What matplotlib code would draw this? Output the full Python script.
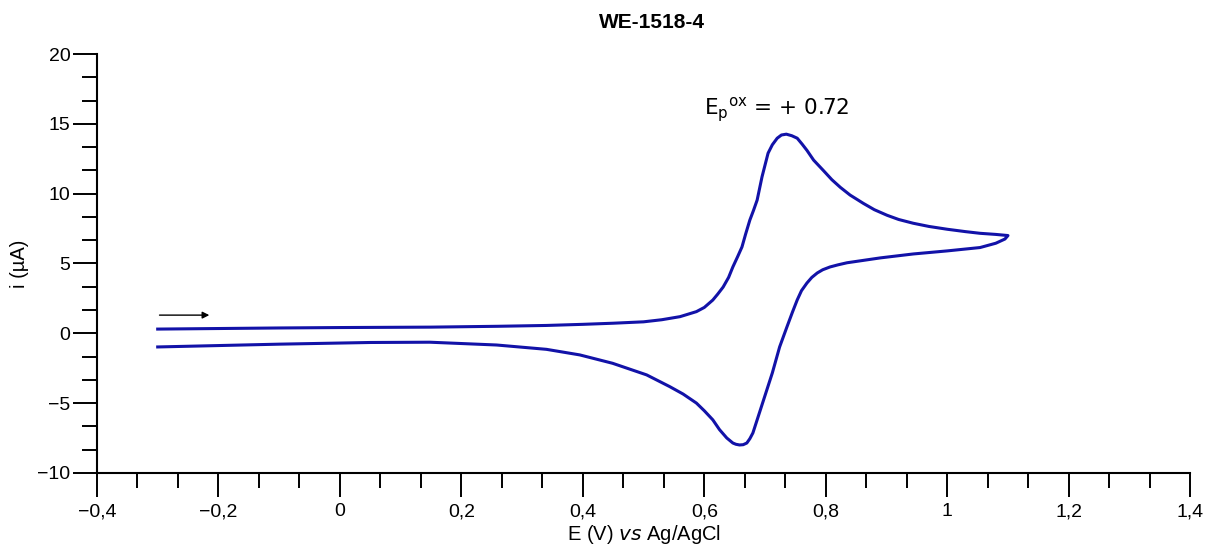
import matplotlib
matplotlib.use("Agg")
import matplotlib.pyplot as plt
from matplotlib.ticker import MultipleLocator, AutoMinorLocator, FuncFormatter

# forward (anodic) scan
e_fwd = [-0.30, -0.20, -0.10, 0.00, 0.10, 0.15, 0.26, 0.34, 0.40, 0.45, 0.50,
         0.53, 0.56, 0.587, 0.60, 0.614, 0.622, 0.631, 0.64, 0.647, 0.655,
         0.662, 0.668, 0.675, 0.681, 0.687, 0.695, 0.705, 0.712, 0.72, 0.727,
         0.735, 0.744, 0.753, 0.761, 0.769, 0.78, 0.796, 0.81, 0.824, 0.84,
         0.862, 0.88, 0.901, 0.92, 0.944, 0.97, 1.00, 1.03, 1.054, 1.08, 1.10]
i_fwd = [0.30, 0.34, 0.38, 0.41, 0.43, 0.44, 0.50, 0.56, 0.64, 0.72, 0.82,
         0.97, 1.19, 1.55, 1.85, 2.38, 2.80, 3.31, 4.00, 4.75, 5.50,
         6.18, 7.10, 8.11, 8.80, 9.54, 11.2, 12.9, 13.5, 13.97, 14.2,
         14.26, 14.15, 13.97, 13.55, 13.1, 12.4, 11.66, 11.0, 10.45, 9.9,
         9.3, 8.85, 8.45, 8.15, 7.88, 7.65, 7.45, 7.28, 7.16, 7.08, 7.0]

# reverse (cathodic) scan
e_rev = [1.10, 1.095, 1.08, 1.054, 1.00, 0.944, 0.89, 0.835, 0.82, 0.807,
         0.795, 0.786, 0.777, 0.769, 0.76, 0.753, 0.745, 0.736, 0.724, 0.712,
         0.696, 0.68, 0.675, 0.67, 0.664, 0.658, 0.652, 0.647, 0.637, 0.625,
         0.614, 0.60, 0.587, 0.565, 0.543, 0.505, 0.449, 0.395, 0.34, 0.258,
         0.148, 0.05, -0.10, -0.20, -0.30]
i_rev = [7.0, 6.75, 6.45, 6.14, 5.9, 5.68, 5.4, 5.05, 4.9, 4.75,
         4.55, 4.32, 4.0, 3.6, 3.05, 2.39, 1.5, 0.45, -0.98, -2.84,
         -4.99, -7.14, -7.55, -7.86, -7.98, -8.0, -7.95, -7.86, -7.5, -6.9,
         -6.2, -5.55, -5.0, -4.35, -3.82, -2.98, -2.15, -1.55, -1.15, -0.84,
         -0.64, -0.66, -0.78, -0.88, -0.98]

peak_label = "+ 0.72"
title = "WE-1518-4"

plt.rcParams["font.family"] = ["Liberation Sans", "DejaVu Sans"]

fig = plt.figure(figsize=(12.12, 5.57), dpi=100)
ax = fig.add_axes([0.080, 0.151, 0.902, 0.752])

ax.plot(e_fwd + e_rev, i_fwd + i_rev, color="#1212a8", linewidth=2.2)

ax.annotate("", xy=(-0.215, 1.3), xytext=(-0.297, 1.3),
            arrowprops=dict(arrowstyle="-|>", color="black", lw=1.0,
                            mutation_scale=10, shrinkA=0, shrinkB=0))

ax.text(0.600, 16.0, r"E$_\mathregular{p}$$^\mathregular{ox}$ = " + peak_label,
        family="DejaVu Sans", fontsize=15.5, va="center", ha="left")

ax.set_xlim(-0.4, 1.4)
ax.set_ylim(-10, 20)

ax.xaxis.set_major_locator(MultipleLocator(0.2))
ax.xaxis.set_minor_locator(AutoMinorLocator(3))
ax.yaxis.set_major_locator(MultipleLocator(5))
ax.yaxis.set_minor_locator(AutoMinorLocator(3))


def fmt(v, pos):
    s = f"{v:.1f}".rstrip("0").rstrip(".")
    if s in ("-0", ""):
        s = "0"
    return s.replace(".", ",").replace("-", "\u2212")


ax.xaxis.set_major_formatter(FuncFormatter(fmt))
ax.yaxis.set_major_formatter(FuncFormatter(fmt))

for s in ("top", "right"):
    ax.spines[s].set_visible(False)
for s in ("left", "bottom"):
    ax.spines[s].set_linewidth(1.5)

ax.tick_params(which="major", direction="out", length=17, width=1.4,
               labelsize=14)
ax.tick_params(which="minor", direction="out", length=10.5, width=1.4)
ax.tick_params(axis="x", which="major", pad=5)
ax.tick_params(axis="y", which="major", pad=2)

ax.set_xlabel("E (V) $\\mathregular{\\it{vs}}$ Ag/AgCl", fontsize=14.5, labelpad=2)
ax.set_ylabel("i (\u00b5A)", fontsize=14.5, labelpad=6)

fig.text(652 / 1212, 1 - 22 / 557, title, fontsize=15, fontweight="bold",
         ha="center", va="center")

fig.savefig("out.png", dpi=100)
